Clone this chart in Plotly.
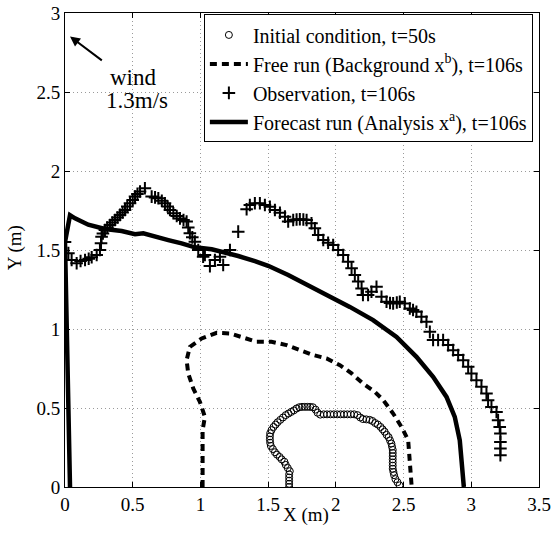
import plotly.graph_objects as go

# Initial condition, t=50s (circles)
init_x = [1.655, 1.655, 1.655, 1.655, 1.655, 1.66, 1.645, 1.63, 1.62, 1.60, 1.585, 1.565, 1.55, 1.535,
          1.52, 1.515, 1.513, 1.513, 1.515, 1.525, 1.54, 1.555, 1.57, 1.59, 1.61, 1.63, 1.65, 1.67, 1.69,
          1.71, 1.73, 1.75, 1.77, 1.79, 1.81, 1.83, 1.85, 1.865, 1.885, 1.91, 1.935, 1.96, 1.985, 2.01,
          2.035, 2.06, 2.085, 2.11, 2.135, 2.16, 2.18, 2.20, 2.225, 2.25, 2.27, 2.29, 2.31, 2.33, 2.345,
          2.36, 2.375, 2.39, 2.40, 2.41, 2.415, 2.42, 2.42, 2.42, 2.42, 2.42, 2.42, 2.42, 2.425, 2.43,
          2.44, 2.455, 2.47]
init_y = [0.00, 0.02, 0.04, 0.06, 0.08, 0.10, 0.12, 0.14, 0.16, 0.175, 0.19, 0.205, 0.22, 0.24,
          0.26, 0.28, 0.30, 0.32, 0.34, 0.36, 0.38, 0.395, 0.41, 0.425, 0.44, 0.455, 0.465, 0.475, 0.485,
          0.497, 0.505, 0.507, 0.507, 0.507, 0.507, 0.505, 0.49, 0.47, 0.458, 0.46, 0.46, 0.46, 0.46, 0.46,
          0.46, 0.46, 0.46, 0.46, 0.46, 0.455, 0.44, 0.43, 0.428, 0.425, 0.418, 0.405, 0.395, 0.38, 0.365,
          0.35, 0.33, 0.315, 0.295, 0.275, 0.255, 0.235, 0.215, 0.195, 0.175, 0.155, 0.135, 0.115, 0.095, 0.075,
          0.05, 0.03, 0.01]

# Free run (Background), t=106s (dashed)
free_x = [1.016, 1.016, 1.016, 1.016, 1.033, 0.996, 0.947, 0.91, 0.898, 0.922, 1.009, 1.12, 1.218,
          1.415, 1.525, 1.636, 1.734, 1.833, 1.931, 2.03, 2.116, 2.20, 2.288, 2.35, 2.423, 2.485,
          2.534, 2.54, 2.546, 2.56]
free_y = [0.0, 0.127, 0.233, 0.36, 0.444, 0.539, 0.624, 0.719, 0.803, 0.887, 0.94, 0.976, 0.972,
          0.919, 0.919, 0.898, 0.866, 0.835, 0.814, 0.771, 0.719, 0.655, 0.602, 0.55, 0.465, 0.38,
          0.296, 0.212, 0.127, 0.0]

# Observation, t=106s (plus markers)
obs_x = [0.00, 0.025, 0.049, 0.086, 0.115, 0.148, 0.175, 0.197, 0.234, 0.258, 0.266, 0.27, 0.28, 0.295,
         0.312, 0.332, 0.35, 0.369, 0.388, 0.406, 0.425, 0.443, 0.46, 0.48, 0.50, 0.517, 0.535, 0.554,
         0.59, 0.64, 0.665, 0.689, 0.715, 0.738, 0.758, 0.775, 0.80, 0.825, 0.849, 0.875, 0.898, 0.91,
         0.922, 0.94, 0.959, 0.984, 1.02, 1.033, 1.07, 1.107, 1.144, 1.168, 1.218, 1.279, 1.341, 1.365,
         1.402, 1.439, 1.476, 1.513, 1.55, 1.587, 1.624, 1.648, 1.685, 1.71, 1.734, 1.76, 1.784, 1.82,
         1.845, 1.87, 1.907, 1.943, 1.98, 2.017, 2.054, 2.09, 2.116, 2.14, 2.165, 2.19, 2.20, 2.238,
         2.263, 2.30, 2.337, 2.374, 2.40, 2.423, 2.45, 2.472, 2.509, 2.546, 2.57, 2.595, 2.632, 2.669,
         2.694, 2.718, 2.755, 2.792, 2.829, 2.866, 2.903, 2.94, 2.977, 3.001, 3.038, 3.075, 3.112,
         3.124, 3.149, 3.186, 3.198, 3.21, 3.215, 3.215, 3.215, 3.215]
obs_y = [1.55, 1.48, 1.437, 1.416, 1.43, 1.437, 1.445, 1.454, 1.468, 1.50, 1.542, 1.584, 1.605, 1.627,
         1.642, 1.658, 1.674, 1.69, 1.706, 1.722, 1.738, 1.753, 1.775, 1.796, 1.817, 1.838, 1.855, 1.87,
         1.891, 1.838, 1.833, 1.828, 1.812, 1.796, 1.775, 1.753, 1.733, 1.715, 1.70, 1.69, 1.68, 1.643,
         1.606, 1.58, 1.553, 1.50, 1.458, 1.468, 1.398, 1.437, 1.458, 1.405, 1.50, 1.616, 1.758, 1.785,
         1.796, 1.796, 1.785, 1.774, 1.753, 1.736, 1.711, 1.68, 1.69, 1.693, 1.695, 1.693, 1.69, 1.669,
         1.638, 1.595, 1.563, 1.546, 1.532, 1.50, 1.468, 1.426, 1.384, 1.342, 1.30, 1.257, 1.215, 1.215,
         1.236, 1.267, 1.204, 1.172, 1.165, 1.162, 1.168, 1.172, 1.162, 1.13, 1.12, 1.109, 1.077, 1.046,
         0.982, 0.93, 0.93, 0.93, 0.898, 0.866, 0.835, 0.803, 0.761, 0.719, 0.676, 0.634, 0.592,
         0.549, 0.507, 0.475, 0.423, 0.38, 0.338, 0.285, 0.243, 0.201]

# Forecast run (Analysis), t=106s (solid)
fc_x = [0.037, 0.025, 0.012, 0.0, 0.0, 0.037, 0.074, 0.172, 0.295, 0.418, 0.517, 0.578, 0.664, 0.763,
        0.861, 0.959, 1.083, 1.156, 1.279, 1.402, 1.50, 1.648, 1.796, 1.943, 2.103, 2.275, 2.448,
        2.595, 2.718, 2.817, 2.878, 2.915, 2.928, 2.94, 2.945]
fc_y = [0.0, 0.52, 1.0, 1.36, 1.55, 1.72, 1.70, 1.66, 1.633, 1.62, 1.60, 1.606, 1.584, 1.563,
        1.542, 1.517, 1.505, 1.49, 1.462, 1.43, 1.40, 1.342, 1.278, 1.215, 1.14, 1.056, 0.95,
        0.824, 0.697, 0.57, 0.444, 0.296, 0.169, 0.085, 0.0]

x_ticks = [0, 0.5, 1, 1.5, 2, 2.5, 3, 3.5]
x_ticktext = ["0", "0.5", "1", "1.5", "2", "2.5", "3", "3.5"]
y_ticks = [0, 0.5, 1, 1.5, 2, 2.5, 3]
y_ticktext = ["0", "0.5", "1", "1.5", "2", "2.5", "3"]

FONT = "Liberation Serif"

fig = go.Figure()
fig.add_trace(go.Scatter(x=init_x, y=init_y, mode="markers", name="Initial condition, t=50s",
                         marker=dict(symbol="circle-open", size=7, color="black", line=dict(width=1, color="black"))))
fig.add_trace(go.Scatter(x=free_x, y=free_y, mode="lines", name="Free run (Background x<sup>b</sup>), t=106s",
                         line=dict(color="black", width=4, dash="7px,5px")))
fig.add_trace(go.Scatter(x=obs_x, y=obs_y, mode="markers", name="Observation, t=106s",
                         marker=dict(symbol="cross-thin", size=9, color="black", line=dict(width=2, color="black"))))
fig.add_trace(go.Scatter(x=fc_x, y=fc_y, mode="lines", name="Forecast run (Analysis x<sup>a</sup>), t=106s",
                         line=dict(color="black", width=4.5)))

# wind arrow and text
fig.add_annotation(x=0.037, y=2.852, ax=0.283, ay=2.693, xref="x", yref="y", axref="x", ayref="y",
                   text="", showarrow=True, arrowhead=2, arrowsize=1, arrowwidth=2, arrowcolor="black")
fig.add_annotation(x=0.509, y=2.59, xref="x", yref="y", text="wind", showarrow=False,
                   font=dict(family=FONT, size=23, color="black"))
fig.add_annotation(x=0.529, y=2.444, xref="x", yref="y", text="1.3m/s", showarrow=False,
                   font=dict(family=FONT, size=23, color="black"))

# axis titles
fig.add_annotation(x=0.508, y=-0.06, xref="paper", yref="paper", text="X (m)", showarrow=False,
                   xanchor="center", yanchor="middle", font=dict(family=FONT, size=19, color="black"))
fig.add_annotation(x=-0.105, y=0.504, xref="paper", yref="paper", text="Y (m)", showarrow=False,
                   textangle=-90, xanchor="center", yanchor="middle",
                   font=dict(family=FONT, size=19, color="black"))

axis_common = dict(showline=True, linecolor="black", linewidth=1, mirror="ticks", ticks="inside",
                   ticklen=5, tickcolor="black", showgrid=True, gridcolor="#9a9a9a", griddash="1px,3px",
                   gridwidth=1, zeroline=False, automargin=False,
                   tickfont=dict(family=FONT, size=19, color="black"))

fig.update_layout(
    width=551, height=533,
    margin=dict(l=65, r=12, t=13, b=46, autoexpand=False),
    paper_bgcolor="white", plot_bgcolor="white",
    font=dict(family=FONT, size=19, color="black"),
    showlegend=True,
    legend=dict(x=0.293, y=0.997, xanchor="left", yanchor="top", bgcolor="white",
                bordercolor="black", borderwidth=1, font=dict(family=FONT, size=20, color="black"),
                tracegroupgap=0, itemwidth=38),
    xaxis=dict(range=[0, 3.5], tickvals=x_ticks, ticktext=x_ticktext, **axis_common),
    yaxis=dict(range=[0, 3], tickvals=y_ticks, ticktext=y_ticktext, **axis_common),
)

fig.write_html("out.html", config={"displayModeBar": False},
               post_script="document.body.style.margin='0px';")
